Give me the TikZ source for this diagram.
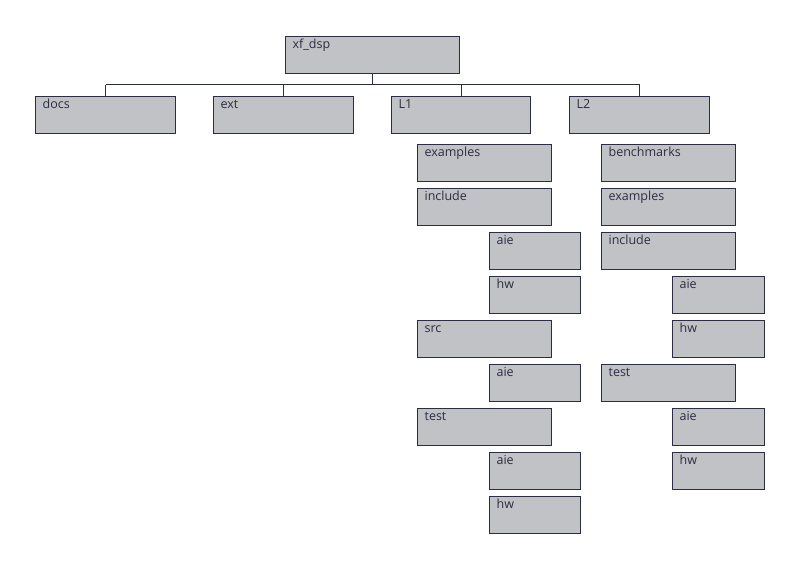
\documentclass[tikz,border=0pt]{standalone}
\usepackage{fontspec}
\setmainfont{Open Sans}
\definecolor{boxfill}{HTML}{C1C2C6}
\definecolor{boxline}{HTML}{2B2D42}
\begin{document}
\begin{tikzpicture}[x=1pt,y=-1pt,
  fold/.style={draw=boxline,fill=boxfill,line width=1.2pt,minimum height=37pt,anchor=north west,
    text height=10pt,text depth=24pt,align=left,inner sep=0pt,font=\fontsize{12.5}{14}\selectfont,
    text=boxline},
  conn/.style={draw=boxline,line width=1pt}]
\useasboundingbox (0,0) rectangle (800,569);
\node[fold,minimum width=174pt,text width=168pt] (root) at (285,36) {\hspace{4pt}xf\_dsp};
\node[fold,minimum width=140pt,text width=134pt] (docs) at (35,96) {\hspace{4pt}docs};
\node[fold,minimum width=140pt,text width=134pt] (ext) at (213,96) {\hspace{4pt}ext};
\node[fold,minimum width=139pt,text width=133pt] (l1) at (391,96) {\hspace{4pt}L1};
\node[fold,minimum width=140pt,text width=134pt] (l2) at (569,96) {\hspace{4pt}L2};
\coordinate (bus) at (0,85);
\draw[conn] (root.south) -- (root.south |- bus);
\draw[conn] (docs.north |- bus) -- (l2.north |- bus);
\foreach \n in {docs,ext,l1,l2} \draw[conn] (\n.north |- bus) -- (\n.north);
\foreach \name/\t/\x/\y/\w/\tw in {a/examples/417/144/134/128, b/include/417/188/134/128, c/aie/489/232/91/85, d/hw/489/276/91/85, e/src/417/320/134/128, f/aie/489/364/91/85, g/test/417/408/134/128, h/aie/489/452/91/85, i/hw/489/496/91/85,
  p/benchmarks/601/144/134/128, q/examples/601/188/134/128, r/include/601/232/134/128, s/aie/672/276/92/86, t/hw/672/320/92/86, u/test/601/364/134/128, v/aie/672/408/92/86, w/hw/672/452/92/86}
  \node[fold,minimum width=\w pt,text width=\tw pt] (\name) at (\x,\y) {\hspace{4pt}\t};
\end{tikzpicture}
\end{document}
